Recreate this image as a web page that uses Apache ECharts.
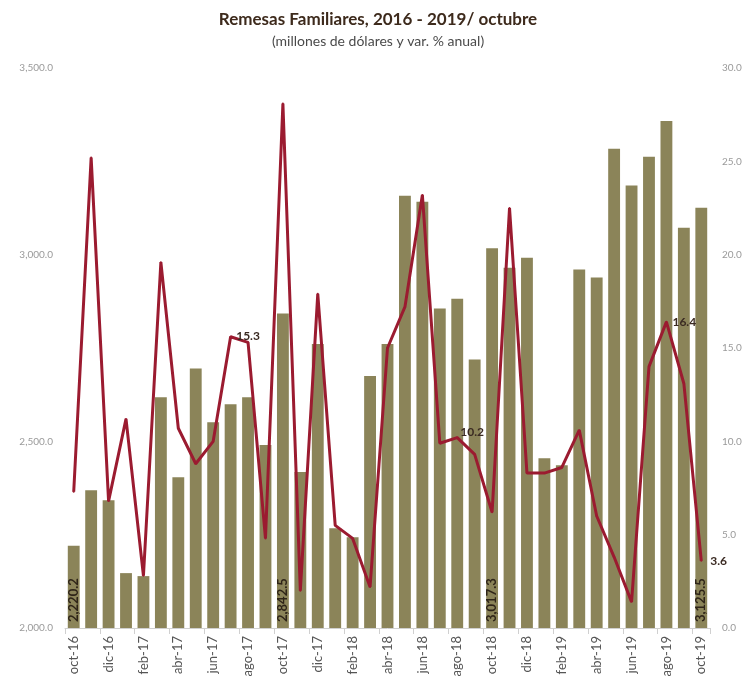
<!DOCTYPE html>
<html><head><meta charset="utf-8">
<script src="https://cdn.jsdelivr.net/npm/echarts@6/dist/echarts.min.js"></script>
<style>html,body{margin:0;padding:0;background:#fff}#c{width:756px;height:686px}</style>
</head><body><div id="c"></div>
<script>
const categories = ["oct-16","nov-16","dic-16","ene-17","feb-17","mar-17","abr-17","may-17","jun-17","jul-17","ago-17","sep-17","oct-17","nov-17","dic-17","ene-18","feb-18","mar-18","abr-18","may-18","jun-18","jul-18","ago-18","sep-18","oct-18","nov-18","dic-18","ene-19","feb-19","mar-19","abr-19","may-19","jun-19","jul-19","ago-19","sep-19","oct-19"];
const remesas = [2220.2,2369,2342,2147,2139,2618,2404,2695,2551,2599,2618,2490,2842.5,2418,2761,2267,2243,2675,2761,3158,3142,2856,2882,2719,3017.3,2965,2992,2455,2436,2960,2939,3284,3185,3262,3358,3072,3125.5];
const variacion = [7.3,25.2,6.8,11.2,2.8,19.6,10.7,8.8,10.0,15.6,15.3,4.8,28.1,2.0,17.9,5.5,4.8,2.2,15.0,17.2,23.2,9.9,10.2,9.3,6.2,22.5,8.3,8.3,8.6,10.6,6.0,3.8,1.4,14.0,16.4,13.1,3.6];
const barLabelIdx = [0,12,24,36];
const lineLabelIdx = [10,22,34,36];
const leftTicks = [2000,3500,500];
const rightTicks = [0,30,5];

const font = 'Lato, "DejaVu Sans", sans-serif';
const fmt1 = v => v.toLocaleString('en-US',{minimumFractionDigits:1,maximumFractionDigits:1});

const labelStyleByIdx = {
  10:{position:'top',distance:-1},
  22:{position:'right',distance:2,offset:[0,-5]},
  34:{position:'right',distance:5},
  36:{position:'right',distance:8}
};
const barData = remesas.map((v,i)=>({
  value:v,
  label: barLabelIdx.includes(i) ? {show:true} : {show:false}
}));
const lineData = variacion.map((v,i)=>{
  if(!lineLabelIdx.includes(i)) return {value:v};
  return {value:v,label:Object.assign({show:true},labelStyleByIdx[i])};
});

const chart = echarts.init(document.getElementById('c'));
chart.setOption({
  animation:false,
  backgroundColor:'#fff',
  title:{
    text:'Remesas Familiares, 2016 - 2019/ octubre',
    subtext:'(millones de dólares y var. % anual)',
    left:'center', top:6, itemGap:6,
    textStyle:{fontFamily:font,fontSize:17,fontWeight:'bold',color:'#3d2a1c'},
    subtextStyle:{fontFamily:font,fontSize:14,color:'#4a4a4a'}
  },
  grid:{left:65,right:46,top:68,bottom:58},
  xAxis:{
    type:'category', data:categories, boundaryGap:true,
    axisLine:{lineStyle:{color:'#d0d0d0'}},
    axisTick:{show:true,interval:1,length:6,lineStyle:{color:'#d0d0d0'}},
    axisLabel:{interval:1,rotate:90,fontFamily:font,fontSize:13,color:'#555',margin:8}
  },
  yAxis:[
    {type:'value',min:leftTicks[0],max:leftTicks[1],interval:leftTicks[2],
     splitLine:{show:false},axisLine:{show:false},axisTick:{show:false},
     axisLabel:{fontFamily:font,fontSize:10,color:'#9a9a9a',formatter:fmt1,margin:12}},
    {type:'value',min:rightTicks[0],max:rightTicks[1],interval:rightTicks[2],
     splitLine:{show:false},axisLine:{show:false},axisTick:{show:false},
     axisLabel:{fontFamily:font,fontSize:10,color:'#9a9a9a',formatter:v=>v.toFixed(1),margin:12}}
  ],
  series:[
    {type:'bar',data:barData,yAxisIndex:0,barCategoryGap:'32%',
     itemStyle:{color:'#8b8459'},
     label:{position:'insideBottom',rotate:90,align:'left',verticalAlign:'middle',distance:6,
       fontFamily:font,fontSize:13,fontWeight:'bold',color:'#2e2418',formatter:p=>fmt1(p.value)}},
    {type:'line',data:lineData,yAxisIndex:1,symbol:'circle',symbolSize:2,showSymbol:true,showAllSymbol:true,smooth:false,
     lineStyle:{color:'#9b1b30',width:3},itemStyle:{color:'#9b1b30'},
     label:{fontFamily:font,fontSize:12,fontWeight:'bold',color:'#3a2a22',formatter:p=>p.value.toFixed(1)}}
  ]
});
</script></body></html>
